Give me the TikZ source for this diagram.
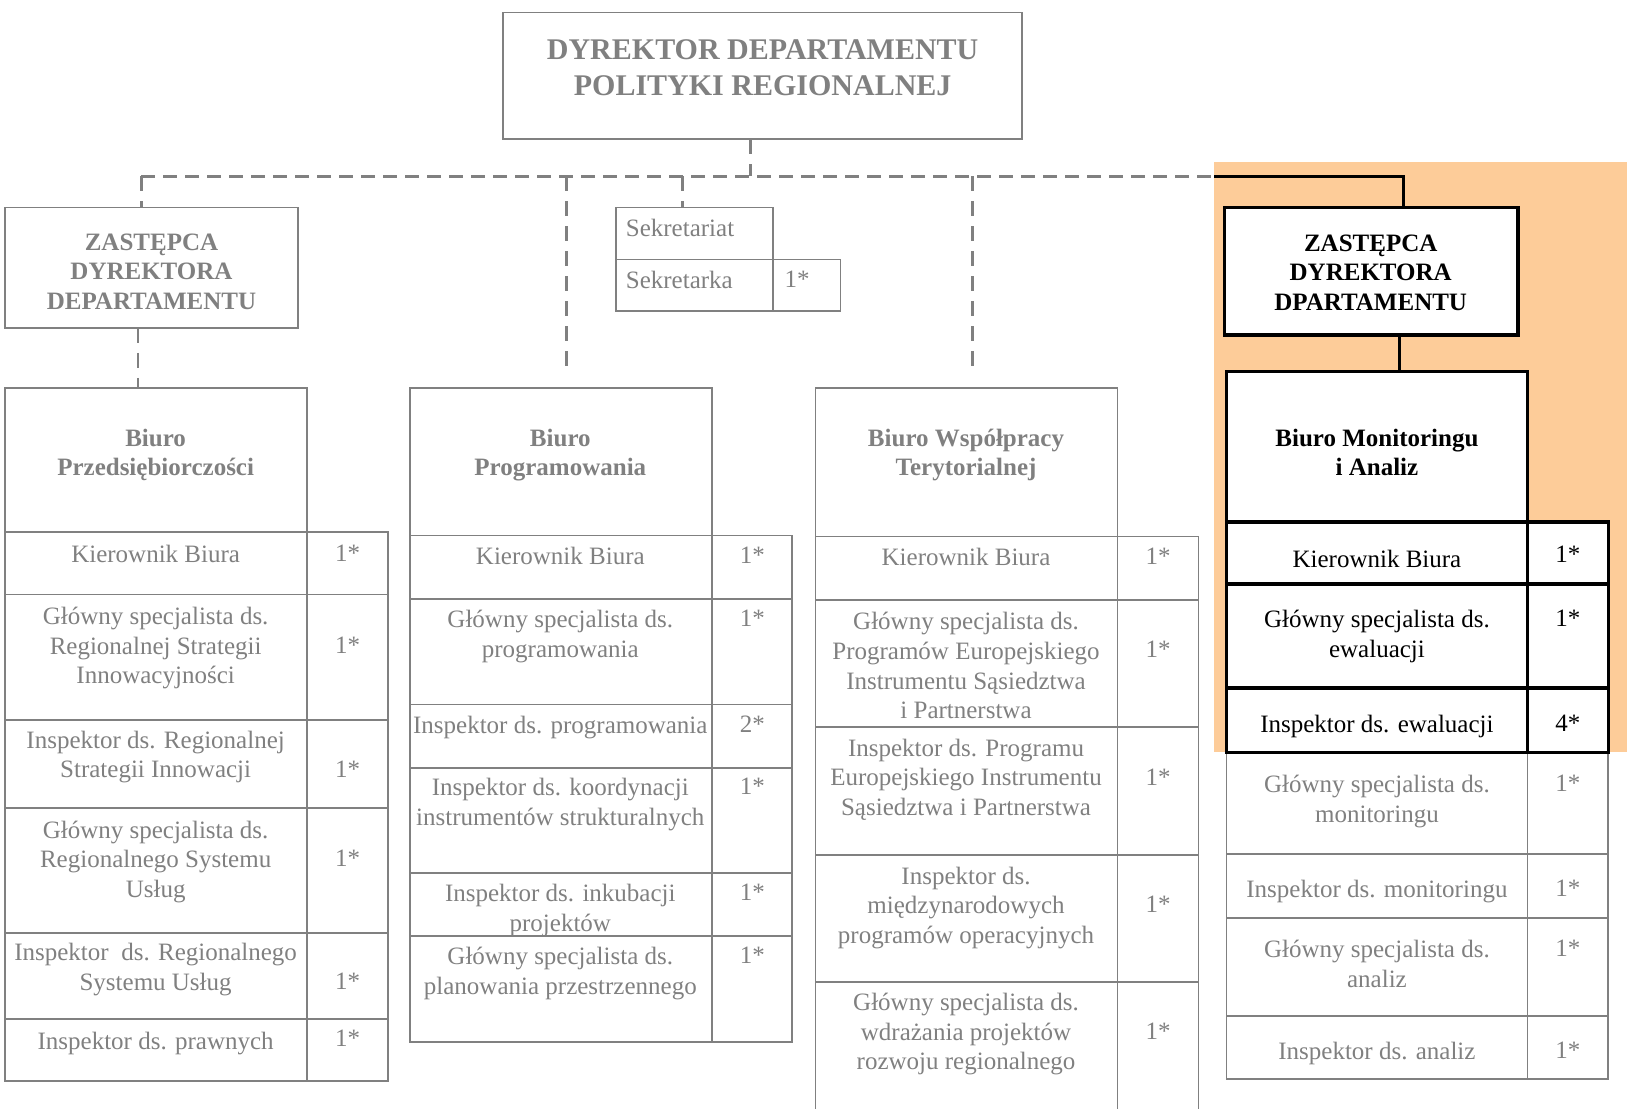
\documentclass[tikz,border=0pt]{standalone}
\usepackage{fontspec}
\setmainfont{Liberation Serif}
\usetikzlibrary{fit}

\definecolor{linegray}{RGB}{128,128,128}
\definecolor{peach}{RGB}{253,204,153}

\tikzset{
  gbox/.style={draw=linegray, line width=1.8pt, inner sep=0pt, outer sep=0pt},
  kbox/.style={draw=black, fill=white, line width=3.4pt, inner sep=0pt, outer sep=0pt},
  txt/.style={anchor=base, align=center, inner sep=0pt, text=linegray, font=\fontsize{25}{29.6}\selectfont},
  ktxt/.style={txt, text=black},
  head/.style={txt, font=\fontsize{25}{29.6}\selectfont\bfseries},
  khead/.style={head, text=black},
  bigtxt/.style={txt, font=\fontsize{30}{36.3}\selectfont\bfseries},
  vdash/.style={draw=linegray, line width=2.8pt, dash pattern=on 15pt off 10pt},
  busdash/.style={draw=linegray, line width=3.6pt, dash pattern=on 14pt off 8pt},
  kline/.style={draw=black, line width=3pt, line join=miter},
}

\begin{document}
\begin{tikzpicture}[x=1.0376pt, y=-1.0376pt]
\useasboundingbox (0,0) rectangle (1568,1068);
\fill[peach] (1170,156) rectangle (1568,725);

% dyrektor i zastepcy
\node[gbox, fit={(485,12) (985,134)}] (dyr) {};
\node[bigtxt] (dyrt) at (735,92) {DYREKTOR DEPARTAMENTU\\POLITYKI REGIONALNEJ};
\node[gbox, fit={(5,200) (287,316)}] (z1) {};
\node[head] (z1t) at (146,298) {ZASTĘPCA\\DYREKTORA\\DEPARTAMENTU};
\node[kbox, fit={(1180,200) (1463,323)}] (z2) {};
\node[khead] (z2t) at (1321,299) {ZASTĘPCA\\DYREKTORA\\DPARTAMENTU};

% sekretariat
\node[gbox, fit={(594,200) (745,250)}] (sekr) {};
\node[gbox, fit={(594,250) (745,300)}] (sekrk) {};
\node[gbox, fit={(745,250) (810,300)}] (sekrn) {};
\node[txt, anchor=base west] (sekrt) at (603,228) {Sekretariat};
\node[txt, anchor=base west] (sekrkt) at (603,278) {Sekretarka};
\node[txt, anchor=base west] (sekrnt) at (756,277) {1*};

% Biuro Przedsiebiorczosci
\node[gbox, fit={(5,374) (296,513)}] (b1) {};
\foreach \ya/\yb [count=\i] in {513/573, 573/694, 694/779, 779/899, 899/982, 982/1042} {
  \node[gbox, fit={(5,\ya) (296,\yb)}] (b1r\i) {};
  \node[gbox, fit={(296,\ya) (374,\yb)}] (b1n\i) {};
}
\node[head] (b1t) at (150,458.5) {Biuro\\Przedsiębiorczości};
\node[txt] (b1t1) at (150,542) {Kierownik Biura};
\node[txt] (b1t2) at (150,659) {Główny specjalista ds.\\Regionalnej Strategii\\Innowacyjności};
\node[txt] (b1t3) at (150,749.5) {Inspektor ds. Regionalnej\\Strategii Innowacji};
\node[txt] (b1t4) at (150,865) {Główny specjalista ds.\\Regionalnego Systemu\\Usług};
\node[txt] (b1t5) at (150,954.5) {Inspektor~ ds. Regionalnego\\Systemu Usług};
\node[txt] (b1t6) at (150,1011) {Inspektor ds. prawnych};
\node[txt] (b1m1) at (335,541) {1*};
\node[txt] (b1m2) at (335,630) {1*};
\node[txt] (b1m3) at (335,749) {1*};
\node[txt] (b1m4) at (335,835) {1*};
\node[txt] (b1m5) at (335,954) {1*};
\node[txt] (b1m6) at (335,1009) {1*};

% Biuro Programowania
\node[gbox, fit={(395,374) (686,516)}] (b2) {};
\foreach \ya/\yb [count=\i] in {516/577, 577/679, 679/740, 740/841, 841/902, 902/1004} {
  \node[gbox, fit={(395,\ya) (686,\yb)}] (b2r\i) {};
  \node[gbox, fit={(686,\ya) (763,\yb)}] (b2n\i) {};
}
\node[head] (b2t) at (540,458.5) {Biuro\\Programowania};
\node[txt] (b2t1) at (540,544) {Kierownik Biura};
\node[txt] (b2t2) at (540,633.5) {Główny specjalista ds.\\programowania};
\node[txt] (b2t3) at (540,707) {Inspektor ds. programowania};
\node[txt] (b2t4) at (540,795.5) {Inspektor ds. koordynacji\\instrumentów strukturalnych};
\node[txt] (b2t5) at (540,897.5) {Inspektor ds. inkubacji\\projektów};
\node[txt] (b2t6) at (540,958.5) {Główny specjalista ds.\\planowania przestrzennego};
\node[txt] (b2m1) at (725,543) {1*};
\node[txt] (b2m2) at (725,604) {1*};
\node[txt] (b2m3) at (725,706) {2*};
\node[txt] (b2m4) at (725,766) {1*};
\node[txt] (b2m5) at (725,868) {1*};
\node[txt] (b2m6) at (725,929) {1*};

% Biuro Wspolpracy Terytorialnej
\node[gbox, fit={(786,374) (1077,517)}] (b3) {};
\foreach \ya/\yb [count=\i] in {517/578, 578/701, 701/824, 824/946, 946/1090} {
  \node[gbox, fit={(786,\ya) (1077,\yb)}] (b3r\i) {};
  \node[gbox, fit={(1077,\ya) (1155,\yb)}] (b3n\i) {};
}
\node[head] (b3t) at (931,458.5) {Biuro Współpracy\\Terytorialnej};
\node[txt] (b3t1) at (931,545) {Kierownik Biura};
\node[txt] (b3t2) at (931,692.6) {Główny specjalista ds.\\Programów Europejskiego\\Instrumentu Sąsiedztwa\\i Partnerstwa};
\node[txt] (b3t3) at (931,786) {Inspektor ds. Programu\\Europejskiego Instrumentu\\Sąsiedztwa i Partnerstwa};
\node[txt] (b3t4) at (931,909) {Inspektor ds.\\międzynarodowych\\programów operacyjnych};
\node[txt] (b3t5) at (931,1031) {Główny specjalista ds.\\wdrażania projektów\\rozwoju regionalnego};
\node[txt] (b3m1) at (1116,544) {1*};
\node[txt] (b3m2) at (1116,634) {1*};
\node[txt] (b3m3) at (1116,757) {1*};
\node[txt] (b3m4) at (1116,879) {1*};
\node[txt] (b3m5) at (1116,1002) {1*};

% Biuro Monitoringu i Analiz
\foreach \ya/\yb [count=\i from 4] in {725/823, 823/885, 885/979, 979/1040} {
  \node[gbox, fit={(1182,\ya) (1472,\yb)}] (b4r\i) {};
  \node[gbox, fit={(1472,\ya) (1550,\yb)}] (b4n\i) {};
}
\node[kbox, fit={(1182,358) (1472,503)}] (b4) {};
\foreach \ya/\yb [count=\i] in {503/563, 563/663, 663/725} {
  \node[kbox, fit={(1182,\ya) (1472,\yb)}] (b4r\i) {};
  \node[kbox, fit={(1472,\ya) (1550,\yb)}] (b4n\i) {};
}
\node[khead] (b4t) at (1327,458.5) {Biuro Monitoringu\\i Analiz};
\node[ktxt] (b4t1) at (1327,547) {Kierownik Biura};
\node[ktxt] (b4t2) at (1327,633.5) {Główny specjalista ds.\\ewaluacji};
\node[ktxt] (b4t3) at (1327,706) {Inspektor ds. ewaluacji};
\node[txt] (b4t4) at (1327,792.5) {Główny specjalista ds.\\monitoringu};
\node[txt] (b4t5) at (1327,865) {Inspektor ds. monitoringu};
\node[txt] (b4t6) at (1327,951.5) {Główny specjalista ds.\\analiz};
\node[txt] (b4t7) at (1327,1021) {Inspektor ds. analiz};
\node[ktxt] (b4m1) at (1511,542) {1*};
\node[ktxt] (b4m2) at (1511,604) {1*};
\node[ktxt] (b4m3) at (1511,705) {4*};
\node[txt] (b4m4) at (1511,763) {1*};
\node[txt] (b4m5) at (1511,864) {1*};
\node[txt] (b4m6) at (1511,922) {1*};
\node[txt] (b4m7) at (1511,1020) {1*};

% polaczenia
\coordinate (t0) at (723,170);
\coordinate (t1) at (136,170);
\coordinate (t2) at (546,170);
\coordinate (t3) at (658,170);
\coordinate (t4) at (937,170);
\coordinate (tk) at (1170,170);
\coordinate (t5) at (1353,170);
\coordinate (d1) at (133,0);
\coordinate (d5) at (1349,0);
\draw[busdash] (t1) -- (tk);
\draw[kline] (tk) -- (t5) -- (t5 |- z2.north);
\draw[vdash] (dyr.south -| t0) -- (t0);
\draw[vdash] (t1) -- (t1 |- z1.north);
\draw[vdash, shorten >=12pt] (t2) -- (t2 |- b2.north);
\draw[vdash] (t3) -- (t3 |- sekr.north);
\draw[vdash, shorten >=12pt] (t4) -- (t4 |- b3.north);
\draw[vdash] (z1.south -| d1) -- (b1.north -| d1);
\draw[kline, line width=2.6pt] (z2.south -| d5) -- (b4.north -| d5);
\end{tikzpicture}
\end{document}
